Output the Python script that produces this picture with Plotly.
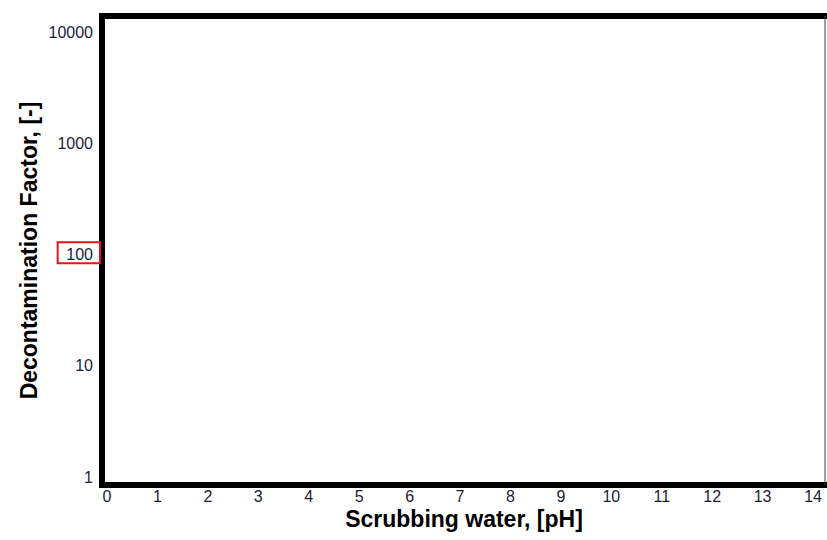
import plotly.graph_objects as go

# axis ticks (the chart carries no data series)
ph_ticks = list(range(0, 15))
df_ticks = [1, 10, 100, 1000, 10000]
df_labels = ["1", "10", "100", "1000", "10000"]

# empty series so the axes render
ph_values = []
df_values = []

fig = go.Figure()

fig.add_trace(
    go.Scatter(
        x=ph_values,
        y=df_values,
        mode="markers",
        showlegend=False
    )
)

fig.update_layout(
    width=827,
    height=540,
    autosize=False,
    margin=dict(l=102, r=1, t=16, b=55),
    paper_bgcolor="white",
    plot_bgcolor="white",
    font=dict(family="Liberation Sans, Arial, sans-serif", color="#1c1c3a"),
    showlegend=False,
    xaxis=dict(
        range=[-0.099, 14.257],
        tickvals=ph_ticks,
        showgrid=False,
        zeroline=False,
        showline=False,
        ticks="",
        tickfont=dict(size=16),
        ticklabelstandoff=0,
        title=dict(
            text="<b>Scrubbing water, [pH]</b>",
            font=dict(size=23, color="black"),
            standoff=6
        )
    ),
    yaxis=dict(
        type="log",
        range=[-0.072, 4.144],
        tickvals=df_ticks,
        ticktext=df_labels,
        showgrid=False,
        zeroline=False,
        showline=False,
        ticks="",
        tickfont=dict(size=16),
        ticklabelstandoff=8,
        title=dict(
            text="<b>Decontamination Factor, [-]</b>",
            font=dict(size=23, color="black"),
            standoff=4
        )
    )
)

# thick black frame (left, top, bottom); its right side runs off the page
fig.add_shape(
    type="rect", xref="paper", yref="paper",
    x0=0, x1=1.02, y0=0, y1=1,
    line=dict(color="black", width=6),
    layer="above"
)

# thin right edge
fig.add_shape(
    type="line", xref="paper", yref="paper",
    x0=0.9986, x1=0.9986, y0=0, y1=1,
    line=dict(color="#444444", width=1),
    layer="above"
)

# red highlight box round the "100" label
fig.add_shape(
    type="rect", xref="paper", yref="paper",
    x0=-0.0612, x1=-0.0028, y0=0.4728, y1=0.5176,
    line=dict(color="#e8141c", width=2)
)

# the figure fills the whole window
fig.write_html(
    "out.html",
    config={"displayModeBar": False},
    post_script="document.body.style.margin = '0'; document.body.style.overflow = 'hidden';"
)
